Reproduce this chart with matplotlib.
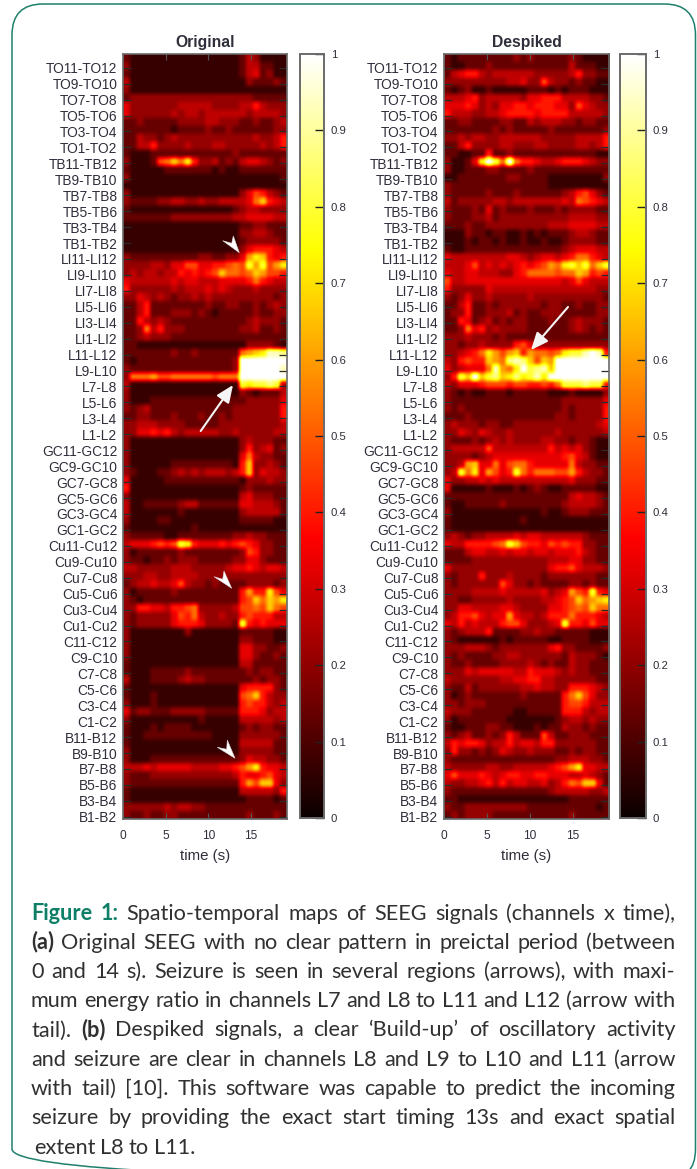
import numpy as np
import matplotlib
matplotlib.use("Agg")
import matplotlib.pyplot as plt
from matplotlib.patches import FancyBboxPatch, Polygon, FancyArrowPatch

W, H = 697, 1169
CHANNELS = ["TO11-TO12","TO9-TO10","TO7-TO8","TO5-TO6","TO3-TO4","TO1-TO2",
            "TB11-TB12","TB9-TB10","TB7-TB8","TB5-TB6","TB3-TB4","TB1-TB2",
            "LI11-LI12","LI9-LI10","LI7-LI8","LI5-LI6","LI3-LI4","LI1-LI2",
            "L11-L12","L9-L10","L7-L8","L5-L6","L3-L4","L1-L2",
            "GC11-GC12","GC9-GC10","GC7-GC8","GC5-GC6","GC3-GC4","GC1-GC2",
            "Cu11-Cu12","Cu9-Cu10","Cu7-Cu8","Cu5-Cu6","Cu3-Cu4","Cu1-Cu2",
            "C11-C12","C9-C10","C7-C8","C5-C6","C3-C4","C1-C2",
            "B11-B12","B9-B10","B7-B8","B5-B6","B3-B4","B1-B2"]
TIME_TICKS = [0, 5, 10, 15]
CBAR_TICKS = [0, .1, .2, .3, .4, .5, .6, .7, .8, .9, 1]
CBAR_LABELS = ["0","0.1","0.2","0.3","0.4","0.5","0.6","0.7","0.8","0.9","1"]
# value of each hex digit used in the rows below
LEVELS = [0.02, 0.07, 0.14, 0.21, 0.27, 0.33, 0.40, 0.47, 0.53, 0.60, 0.67, 0.73, 0.80, 0.87, 0.93, 1.0]

# energy ratio, one hex digit per 0.8 s, rows top to bottom
ORIG_TO = ["211111 111111 111112 431111","311111 111111 111112 442211","211111 111111 111112 452311",
 "411111 111111 111111 322232","311111 111111 111111 111111","233333 333333 333333 322222",
 "533333 334444 433334 464333","533333 343443 444444 344443","223222 223333 443332 232234",
 "222222 212222 322322 222233","224332 343333 333333 343346","224463 333433 344333 334346"]
ORIG_TB = ["211122 222222 222232 222222","311127 8a8b63 342324 554323","211111 222222 212112 222222",
 "311111 111111 111111 111112","111111 111111 111111 111111","311111 111111 111113 576432",
 "322223 344334 334444 58a654","211111 111111 111123 443333","222222 233333 333344 555544",
 "111111 111111 111112 233222","111111 111111 111113 344322","111111 111111 111112 333332"]
ORIG_LI = ["111111 111111 111113 566654","322222 222223 322335 9ba656","333344 355775 566787 c9c79b",
 "343443 446565 67a887 8a9776","544444 454554 445555 686544","633333 343444 545433 343333",
 "335434 323343 433333 333323","224622 222222 322332 232343","224622 233323 212222 232233",
 "226434 322222 222222 343332","223846 333222 222223 342232","223433 322222 222222 222222"]
ORIG_L = ["221111 111111 111111 333321","222222 232232 222228 9abeed","212222 222222 22223f ffffff",
 "322222 222222 22223f fffffe","388897 788888 87888f ffffff","411111 111111 11111c bccdc4",
 "311111 111111 111113 212224","311122 222222 222222 333335","323422 222222 222233 333336",
 "223322 232223 223233 333336","334443 333222 223333 333334","335565 643444 443343 333344"]
ORIG_GC = ["311111 111111 111113 433322","311111 111111 111113 634523","311111 111111 111115 843322",
 "311111 122222 222216 a33432","321112 234343 444346 a35443","511111 222222 222221 333433",
 "611111 111111 111112 322222","311111 111111 111114 533322","411222 223442 222225 544432",
 "411111 112111 111113 444442","311112 211111 111112 222211","211111 111121 111111 111111"]
ORIG_CU = ["322222 112222 222233 433222","455567 67cb65 556567 653322","312222 223222 222223 763322",
 "322122 323332 222233 553222","443333 344433 333455 654554","333443 344443 333333 333333",
 "234454 457433 232222 333323","312222 232222 222226 966b75","321222 222222 222226 7a8a9b",
 "336655 466783 333347 787a87","323333 357684 334336 766644","323333 356665 33332c 656555"]
ORIG_C = ["311111 111311 111112 222211","311111 111111 111113 322211","311111 111111 111115 533223",
 "311111 111111 111115 532232","211111 111111 111114 422222","211122 222322 222222 323322",
 "411122 223433 222222 232332","211111 111111 111115 666632","211121 111111 111117 8a6433",
 "311121 111111 111116 766434","523322 233333 222226 665344","311111 111112 111114 444434"]
ORIG_B = ["211121 222211 111112 323322","211222 222222 211113 333332","211111 111111 111114 444422",
 "311111 111111 111113 333322","311122 222222 222223 544332","444545 555544 445567 9b6554",
 "322233 333333 333346 556754","322222 222222 222226 97aa53","211111 111111 111114 444436",
 "211111 111111 111111 222212","333333 434433 222222 222222","322322 332222 222222 322232"]

DESP_TO = ["212222 222232 322222 321111","211222 322222 222222 422211","245664 344444 433333 463322",
 "333333 333445 337433 232211","212311 211111 222121 222111","444563 444443 556664 444332",
 "555653 435566 566655 375433","644433 445666 656666 444443","223322 223322 434443 323322",
 "222222 232322 222322 222223","334344 334444 443333 344446","224633 334433 344333 344346"]
DESP_TB = ["221122 622322 222222 222211","31125b fc8f86 654456 665433","311222 332222 322222 222222",
 "112222 222332 222111 111113","322222 222222 222111 111111","322222 322232 222223 467532",
 "423333 344344 444445 487654","322232 523222 322232 333322","322233 423333 333333 444433",
 "222322 333333 333444 555544","111322 122112 121222 344322","111212 212112 112112 333322"]
DESP_LI = ["211222 222222 222223 455544","544444 444554 345545 688654","444574 545456 56798b cac8ac",
 "544554 443356 888878 8a9676","744555 555555 555554 575444","633333 544444 444444 444433",
 "323533 433333 433333 333332","224622 323333 332332 232233","233622 333423 223332 222233",
 "226523 423233 222322 343332","223856 343333 222222 343232","333433 323222 222222 222222"]
DESP_L = ["332334 333367 533333 333333","334568 b979a6 98878b ccefe6","436766 a98ded a7a9ff ffffff",
 "534555 8e98bf cdeaff ffffff","36cafa cdabdb cebfff ffffff","435556 777677 66768c ccdcc6",
 "321211 222122 222111 211113","322222 222222 222223 333335","323222 222222 222223 233336",
 "222322 222222 222233 233336","343332 332233 333333 333345","335435 433433 333343 333334"]
DESP_GC = ["322232 343433 334433 233211","344444 744444 444645 453211","333323 455555 555556 754211",
 "3349a5 585788 655555 843322","34c8b5 9756c8 688877 964332","533445 454444 444444 533322",
 "511111 211121 232112 222211","222222 222222 222222 454432","211222 223222 222223 444432",
 "311111 111111 112112 333222","211111 111112 111111 111111","211111 111111 111111 111111"]
DESP_CU = ["343233 444454 554444 443222","544666 678ca7 665767 663322","222455 445455 455455 564322",
 "222233 333333 333444 553322","533333 333333 333566 754443","323336 333433 332333 333322",
 "323333 337533 232222 332322","333344 445444 445345 976c65","332233 333433 334456 7a89ab",
 "335544 445543 333556 787a88","346675 455954 434666 866654","546454 446775 33345c 665755"]
DESP_C = ["323444 622223 343322 222111","321111 112122 222112 222111","333444 323333 333563 322223",
 "323222 233443 333332 433321","322322 223333 432322 433222","333545 555544 655543 433222",
 "433333 334455 664433 333322","322423 333334 454433 666543","312322 222223 222226 8a7533",
 "332333 222222 222226 776444","433322 222211 222226 664344","312222 222111 111123 443433"]
DESP_B = ["211222 332211 121224 332322","323422 323642 227422 333222","465665 344645 546633 333322",
 "363323 235433 433322 323322","322222 222222 222233 444332","433333 443344 444567 9b5544",
 "575556 545665 566555 445432","433445 646455 445346 87aa52","322222 222222 222344 444334",
 "221111 111111 111111 222222","322333 333333 222222 222212","232333 322222 222222 322222"]

ORIG_GROUPS = [ORIG_TO, ORIG_TB, ORIG_LI, ORIG_L, ORIG_GC, ORIG_CU, ORIG_C, ORIG_B]
DESP_GROUPS = [DESP_TO, DESP_TB, DESP_LI, DESP_L, DESP_GC, DESP_CU, DESP_C, DESP_B]

CAPTION = [
 "*Figure *1: Spatio-temporal maps of SEEG signals (channels x time),",
 "#(a) Original SEEG with no clear pattern in preictal period (between",
 "0 and 14 s). Seizure is seen in several regions (arrows), with maxi-",
 "mum energy ratio in channels L7 and L8 to L11 and L12 (arrow with",
 "tail). #(b) Despiked signals, a clear ‘Build-up’ of oscillatory activity",
 "and seizure are clear in channels L8 and L9 to L10 and L11 (arrow",
 "with tail) [10]. This software was capable to predict the incoming",
 "seizure by providing the exact start timing 13s and exact spatial",
 "extent L8 to L11.",
]

def decode(groups):
    rows = []
    for g in groups:
        for r in g:
            r = r.replace(" ", "")
            if len(r) != 24:
                raise ValueError(r)
            rows.append([LEVELS[int(c, 16)] for c in r])
    return np.array(rows)

TXT = "#2e2f3a"
FRAME = "#6a6a6a"
fig = plt.figure(figsize=(W / 100, H / 100), dpi=100, facecolor="white")

def px_axes(l, t, r, b):
    return fig.add_axes([l / W, 1 - b / H, (r - l) / W, (b - t) / H])

def panel(groups, title, l, r, cl, cr):
    ax = px_axes(l, 54, r, 819)
    im = ax.imshow(decode(groups), cmap="hot", vmin=0, vmax=1, aspect="auto",
                   interpolation="hanning", extent=(0, 19.2, 96, 0))
    ax.set_yticks([1.72 + 2 * i for i in range(len(CHANNELS))], CHANNELS,
                  family="Liberation Sans", fontsize=9.9, color=TXT)
    ax.set_xticks(TIME_TICKS, [str(t) for t in TIME_TICKS],
                  family="Liberation Sans", fontsize=8.6, color=TXT)
    ax.tick_params(axis="y", direction="in", length=5.5, width=0.9, left=True, right=True,
                   pad=4, color="#2a2a2a")
    ax.tick_params(axis="x", direction="in", length=4, width=0.8, top=True, bottom=True,
                   pad=8, color="#555555")
    for s in ax.spines.values():
        s.set_color(FRAME); s.set_linewidth(1.2)
    ax.set_xlabel("time (s)", family="Liberation Sans", fontsize=10.8, color=TXT, labelpad=5)
    ax.set_title(title, family="Liberation Sans", fontweight="bold", fontsize=11.3,
                 color=TXT, pad=5)
    cax = px_axes(cl, 54, cr, 818)
    cb = fig.colorbar(im, cax=cax)
    cb.set_ticks(CBAR_TICKS, labels=CBAR_LABELS)
    cax.tick_params(axis="y", direction="in", length=6.5, width=1, pad=5, color="#222222",
                    labelsize=8.2, labelcolor=TXT)
    for t in cax.get_yticklabels():
        t.set_family("Liberation Sans")
    cb.outline.set_edgecolor(FRAME); cb.outline.set_linewidth(1.4)
    return ax

panel(ORIG_GROUPS, "Original", 123, 287, 300, 324)
panel(DESP_GROUPS, "Despiked", 444, 609, 620, 646)

ov = fig.add_axes([0, 0, 1, 1], facecolor="none")
ov.set_xlim(0, W); ov.set_ylim(H, 0); ov.axis("off")
ov.add_patch(FancyBboxPatch((12, 4), 683.5, 1176, boxstyle="round,pad=0,rounding_size=31",
                            fc="none", ec="#1f7f6d", lw=1.1))
for pts in ([(239.3, 252.7), (233.3, 236), (231.7, 243.3), (222.7, 240.7)],
            [(231.7, 588.3), (224, 571), (222.7, 579.3), (214, 576.7)],
            [(235, 758.3), (227.3, 740), (226.7, 749.3), (217.3, 747.3)]):
    ov.add_patch(Polygon(pts, closed=True, fc="white", ec="#dddddd", lw=0.4, zorder=5))
for a, b in (((200.7, 431), (233, 385)), ((568, 307), (531, 350))):
    ov.add_patch(FancyArrowPatch(a, b, arrowstyle="-|>,head_length=0.7,head_width=0.3",
                                 mutation_scale=15, color="#f4f4f4", lw=1.5,
                                 shrinkA=0, shrinkB=0, zorder=5))

# caption, justified word by word
fig.canvas.draw()
rend = fig.canvas.get_renderer()
FS = 15.6
for i, line in enumerate(CAPTION):
    y = 919.5 + 29.25 * i
    arts = []
    for w in line.split(" "):
        style = dict(color="#303030", fontweight="normal")
        if w.startswith("*"):
            w, style = w[1:], dict(color="#0f7f68", fontweight="bold")
        elif w.startswith("#"):
            w, style = w[1:], dict(color="#303030", fontweight="bold")
        arts.append(ov.text(0, y, w, family="Lato", fontsize=FS, va="baseline", ha="left", **style))
    ws = [a.get_window_extent(rend).width for a in arts]
    if i == len(CAPTION) - 1:
        x0, gap = 34, FS * 100 / 72 * 0.22
    else:
        x0, gap = 31, (675.5 - 31 - sum(ws)) / (len(ws) - 1)
    x = x0
    for a, wd in zip(arts, ws):
        a.set_x(x)
        x += wd + gap

fig.savefig("out.png", dpi=100, facecolor="white")
